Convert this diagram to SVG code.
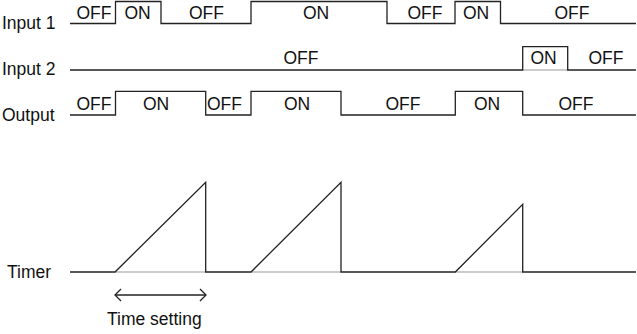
<svg xmlns="http://www.w3.org/2000/svg" width="637" height="334" viewBox="0 0 637 334">
<defs>
<style>
text{font-family:"Liberation Sans",Arial,sans-serif;font-size:17.5px;fill:#111}
.st{text-anchor:middle}
.w{fill:none;stroke:#222;stroke-width:1.3;stroke-linejoin:miter}
.g{fill:none;stroke:#999;stroke-width:1.2}
</style>
<marker id="chev" viewBox="0 0 12 14" refX="11" refY="7" markerWidth="12" markerHeight="14" markerUnits="userSpaceOnUse" orient="auto-start-reverse">
<path d="M5 1 L11 7 L5 13" fill="none" stroke="#222" stroke-width="1.3"/>
</marker>
</defs>
<rect width="637" height="334" fill="#fff"/>
<g id="input1">
<text x="2" y="29">Input 1</text>
<polyline class="w" points="70,23.5 115.5,23.5 115.5,1.5 161,1.5 161,23.5 251,23.5 251,1.5 387,1.5 387,23.5 455,23.5 455,1.5 500.5,1.5 500.5,23.5 636,23.5"/>
<text class="st" x="94" y="19">OFF</text>
<text class="st" x="137.5" y="19">ON</text>
<text class="st" x="206.5" y="19">OFF</text>
<text class="st" x="316" y="19">ON</text>
<text class="st" x="425" y="19">OFF</text>
<text class="st" x="476" y="19">ON</text>
<text class="st" x="572" y="19">OFF</text>
</g>
<g id="input2">
<text x="2" y="75">Input 2</text>
<line class="g" x1="522.7" y1="70" x2="567.7" y2="70"/>
<polyline class="w" points="70,70 522.7,70 522.7,46.7 567.7,46.7 567.7,70 636,70"/>
<text class="st" x="301" y="63.5">OFF</text>
<text class="st" x="543.5" y="63.5">ON</text>
<text class="st" x="606" y="63.5">OFF</text>
</g>
<g id="output">
<text x="2" y="121">Output</text>
<polyline class="w" points="70,115 115.5,115 115.5,91.3 205.7,91.3 205.7,115 251,115 251,91.3 341,91.3 341,115 455.3,115 455.3,91.3 522.7,91.3 522.7,115 636,115"/>
<text class="st" x="94" y="110">OFF</text>
<text class="st" x="156" y="110">ON</text>
<text class="st" x="224.5" y="110">OFF</text>
<text class="st" x="297" y="110">ON</text>
<text class="st" x="403" y="110">OFF</text>
<text class="st" x="487" y="110">ON</text>
<text class="st" x="576" y="110">OFF</text>
</g>
<g id="timer">
<text x="7" y="278">Timer</text>
<line class="g" x1="115" y1="272" x2="205.7" y2="272"/>
<line class="g" x1="251" y1="272" x2="341" y2="272"/>
<line class="g" x1="455.3" y1="272" x2="522.7" y2="272"/>
<polyline class="w" points="70,272 115,272 205.7,182.3 205.7,272 251,272 341,182.3 341,272 455.3,272 522.7,204.3 522.7,272 636,272"/>
</g>
<g id="connectors">
<line x1="115" y1="295" x2="206" y2="295" stroke="#222" stroke-width="1.3" marker-start="url(#chev)" marker-end="url(#chev)"/>
</g>
<g id="time-setting">
<text x="107" y="325">Time setting</text>
</g>
</svg>
